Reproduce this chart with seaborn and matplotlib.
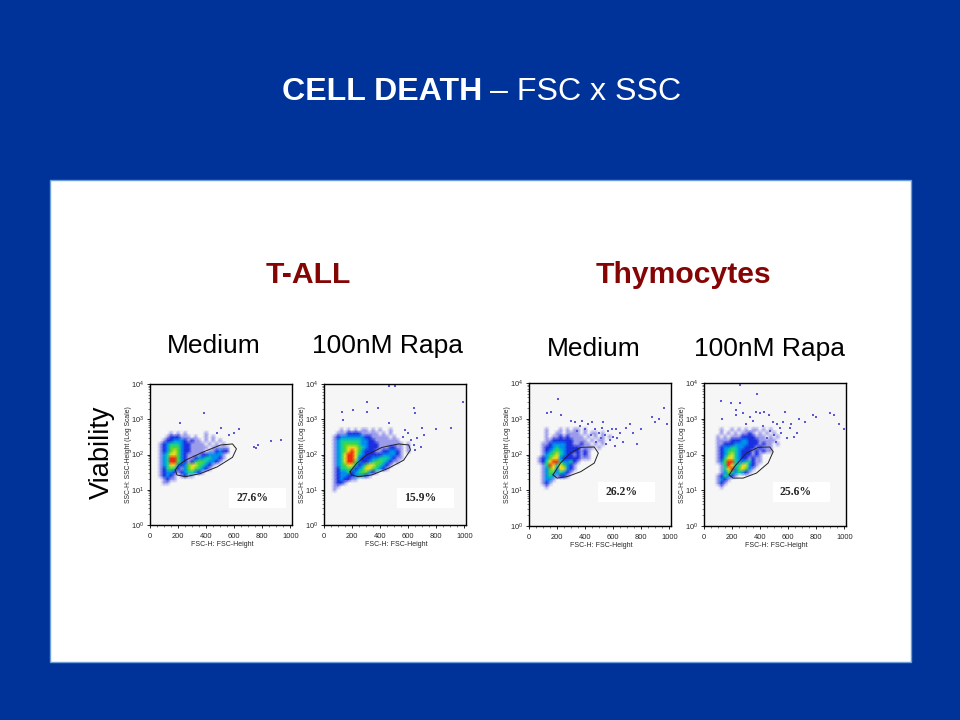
import numpy as np
import pandas as pd
import matplotlib
matplotlib.use("Agg")
import matplotlib.pyplot as plt
from matplotlib.colors import LinearSegmentedColormap
from matplotlib.patches import Rectangle
import seaborn as sns

W, H = 960, 720
BLUE = "#003399"
RED = "#850505"

# density levels by row: first key = log10(SSC) of the row, char i = level at FSC 50 + 25*i
tall_medium_rows = {
 2.6: "....1.1.1.....1", 2.5: "...1222111.1..1.1", 2.4: "..12233321211.1.1.1",
 2.3: ".1234443221111.1.1.1", 2.2: ".12355532211111.11111", 2.1: ".1235653221111.112322.",
 2.0: ".1346653211112233331", 1.9: ".1347753211233443321", 1.8: ".134775321245543321",
 1.7: ".1346632356654321", 1.6: ".124542135654321", 1.5: ".1233212344321",
 1.4: ".12321.1211", 1.3: "..1211", 1.2: "..11"}
tall_rapa_rows = {
 2.7: "...1.1.1.11.1.1..1", 2.6: "..111222211111.1.1", 2.5: ".1233333332211111.1",
 2.4: ".1344444433221111111", 2.3: ".13455554332221111111.1", 2.2: ".13456665432221112211.1",
 2.1: ".13456765322211223321.1", 2.0: ".13467764322222333321", 1.9: ".13467763222334443211",
 1.8: ".1346775322345543211", 1.7: ".13456642356654321", 1.6: ".1244542346654321",
 1.5: ".1233423455321", 1.4: ".12332233321", 1.3: ".1232211", 1.2: ".1221", 1.1: ".11", 1.0: ".1"}
thy_medium_rows = {
 2.7: "...1...1.1.11.1", 2.6: "...1..11.1111.1.11.1", 2.5: "...1.112121111.1.1.1.1",
 2.4: "...112222221111.1.11", 2.3: "..11233332211211.1.1", 2.2: "..122343322221111.1",
 2.1: "..12345432222121", 2.0: "..13456432212121", 1.9: ".123566322222111",
 1.8: ".124677433421", 1.7: "..1476465321", 1.6: "..1356366321", 1.5: "..135434321",
 1.4: "..13431221", 1.3: "..1331", 1.2: "..121", 1.1: "...1"}
thy_rapa_rows = {
 2.7: "...1..1.1.1.11.1.1", 2.6: "...1.1.1.1121.1.1.1", 2.5: "..1.1.1112222111.1.1",
 2.4: "..11112223322211111", 2.3: "..1122233332221211.1", 2.2: "..1233443322212111",
 2.1: "..1234543222121211", 2.0: "..1235643222121", 1.9: "..1246643221211",
 1.8: "..1357743344211", 1.7: "...14764466321", 1.6: "...1467356531", 1.5: "...135434321",
 1.4: "..124321", 1.3: "..1321", 1.2: "..121", 1.1: "...1"}

# isolated events (FSC, log10 SSC)
tall_medium_fsc = [384, 216, 635, 504, 743, 767, 863, 935, 755, 600, 560, 480]
tall_medium_ssc = [3.17, 2.89, 2.72, 2.74, 2.2, 2.27, 2.37, 2.4, 2.18, 2.6, 2.55, 2.62]
tall_rapa_fsc = [460, 508, 305, 125, 137, 209, 305, 388, 640, 652, 460, 700, 796, 904, 988, 712, 652, 664, 600, 620, 560, 690, 580, 640]
tall_rapa_ssc = [3.95, 3.93, 3.5, 3.2, 2.98, 3.26, 3.2, 3.31, 3.31, 3.17, 2.89, 2.74, 2.72, 2.74, 3.5, 2.55, 2.13, 2.46, 2.6, 2.4, 2.5, 2.2, 2.7, 2.28]
thy_medium_fsc = [210, 130, 160, 225, 300, 330, 380, 420, 450, 470, 500, 520, 540, 560, 580, 600, 620, 650, 670, 690, 720, 740, 770, 800, 880, 900, 930, 960, 980, 400, 440, 510, 550, 610, 360, 340, 480, 530, 590, 630]
thy_medium_ssc = [3.55, 3.15, 3.2, 3.1, 2.95, 2.9, 2.95, 2.85, 2.9, 2.7, 2.6, 2.75, 2.55, 2.65, 2.4, 2.5, 2.7, 2.6, 2.35, 2.75, 2.85, 2.6, 2.3, 2.7, 3.05, 2.9, 3.0, 3.3, 2.85, 2.7, 2.55, 2.45, 2.3, 2.25, 2.8, 2.65, 2.35, 2.9, 2.7, 2.45]
thy_rapa_fsc = [260, 120, 190, 260, 130, 230, 380, 230, 280, 330, 370, 400, 430, 460, 490, 520, 550, 580, 610, 640, 680, 720, 780, 800, 900, 930, 960, 1000, 420, 470, 500, 540, 590, 620, 350, 300, 660, 450, 510, 560]
thy_rapa_ssc = [3.95, 3.5, 3.45, 3.45, 3.0, 3.25, 3.7, 3.1, 3.15, 3.05, 3.2, 3.15, 3.2, 3.1, 2.9, 2.85, 2.6, 3.2, 2.75, 2.5, 3.0, 2.9, 3.1, 3.05, 3.15, 3.1, 2.85, 2.7, 2.8, 2.65, 2.55, 2.75, 2.45, 2.85, 2.95, 2.85, 2.6, 2.45, 2.35, 2.9]

# gate outlines (FSC, log10 SSC)
tall_medium_gate_x = [180, 205, 253, 384, 504, 588, 616, 588, 480, 360, 252, 192, 180]
tall_medium_gate_y = [1.56, 1.70, 1.84, 2.08, 2.27, 2.30, 2.16, 1.92, 1.65, 1.46, 1.37, 1.42, 1.56]
tall_rapa_gate_x = [185, 233, 305, 412, 532, 604, 616, 568, 460, 340, 245, 197, 185]
tall_rapa_gate_y = [1.51, 1.75, 1.99, 2.20, 2.30, 2.27, 2.13, 1.84, 1.61, 1.42, 1.37, 1.42, 1.51]
thy_medium_gate_x = [171, 224, 296, 369, 465, 494, 465, 369, 272, 200, 171]
thy_medium_gate_y = [1.43, 1.76, 2.04, 2.20, 2.21, 2.04, 1.76, 1.52, 1.38, 1.34, 1.43]
thy_rapa_gate_x = [179, 219, 302, 386, 469, 493, 457, 374, 279, 207, 179]
thy_rapa_gate_y = [1.43, 1.67, 2.04, 2.20, 2.21, 2.08, 1.76, 1.48, 1.34, 1.34, 1.43]

percent_labels = ["27.6%", "15.9%", "26.2%", "25.6%"]
percent_box_left = [563, 520, 494, 490]
percent_box_top = [1.04, 1.04, 1.24, 1.24]

level_palette = ["#f6f6f6", "#9a9aec", "#1a2fe0", "#0090f0", "#10d0a0",
                 "#50d830", "#f0e020", "#ee2a10"]
density_cmap = LinearSegmentedColormap.from_list("flow", level_palette)
x_ticks = [0, 200, 400, 600, 800, 1000]
decades = [0, 1, 2, 3, 4]


def grid_arrays(rows):
    xs = 50 + 25 * np.arange(30)
    ys = np.round(np.arange(0.8, 3.01, 0.1), 1)
    z = np.zeros((len(ys), len(xs)))
    for y, s in rows.items():
        j = int(round((y - 0.8) * 10))
        for i, c in enumerate(s):
            if c != ".":
                z[j, i] = int(c)
    return xs, 10 ** ys, z


def px_box(l, t, r, b):
    return [l / W, 1 - b / H, (r - l) / W, (b - t) / H]


sns.set_theme(style="white")
plt.rcParams["font.family"] = ["Liberation Sans", "DejaVu Sans"]
plt.rcParams["mathtext.fontset"] = "custom"
plt.rcParams["mathtext.rm"] = "Liberation Sans"

fig = plt.figure(figsize=(W / 100, H / 100), dpi=100, facecolor=BLUE)
fig.add_artist(Rectangle((50 / W, 1 - 662 / H), 861 / W, 482 / H, transform=fig.transFigure,
                         facecolor="white", edgecolor="#6f9fd8", linewidth=1, zorder=-5))


def T(x, y, s, **kw):
    fig.text(x / W, 1 - y / H, s, va="center", color=kw.pop("color", "black"), **kw)


T(282, 92, "CELL DEATH", color="white", fontsize=23.1, fontweight="bold")
T(490, 92, "– FSC x SSC", color="white", fontsize=23.1)
T(308.5, 275, "T-ALL", color=RED, fontsize=21.7, fontweight="bold", ha="center")
T(683, 275, "Thymocytes", color=RED, fontsize=21.7, fontweight="bold", ha="center")
T(214, 346, "Medium", fontsize=19, ha="center")
T(388, 346, "100nM Rapa", fontsize=19, ha="center")
T(594, 349, "Medium", fontsize=19, ha="center")
T(769, 349, "100nM Rapa", fontsize=19, ha="center")
T(102, 452, "Viability", fontsize=19.5, ha="center", rotation=90)

panels = [
    ((150, 384, 292, 525), tall_medium_rows, tall_medium_fsc, tall_medium_ssc, tall_medium_gate_x, tall_medium_gate_y),
    ((324, 384, 466, 525), tall_rapa_rows, tall_rapa_fsc, tall_rapa_ssc, tall_rapa_gate_x, tall_rapa_gate_y),
    ((529, 383, 671, 526), thy_medium_rows, thy_medium_fsc, thy_medium_ssc, thy_medium_gate_x, thy_medium_gate_y),
    ((704, 383, 846, 526), thy_rapa_rows, thy_rapa_fsc, thy_rapa_ssc, thy_rapa_gate_x, thy_rapa_gate_y),
]

for k, (box, rows, sx, sy, gx, gy) in enumerate(panels):
    ax = fig.add_axes(px_box(*box), facecolor="#f6f6f6")
    ax.set_yscale("log")
    gxs, gys, z = grid_arrays(rows)
    ax.pcolormesh(gxs, gys, z, cmap=density_cmap, vmin=0, vmax=7, shading="gouraud", zorder=1)
    sns.scatterplot(x=sx, y=10 ** np.array(sy), ax=ax, s=1.6, marker="s",
                    color="#5a5ad8", linewidth=0, legend=False, zorder=2)
    sns.lineplot(x=gx, y=10 ** np.array(gy), sort=False, estimator=None, color="#222222",
                 linewidth=0.7, ax=ax, zorder=3)
    ax.add_patch(Rectangle((percent_box_left[k], 10 ** (percent_box_top[k] - 0.57)), 405,
                           10 ** percent_box_top[k] - 10 ** (percent_box_top[k] - 0.57),
                           facecolor="white", edgecolor="none", zorder=4))
    ax.text(percent_box_left[k] + 165, 10 ** (percent_box_top[k] - 0.285), percent_labels[k],
            fontsize=8.4, fontweight="bold", family="Liberation Serif", ha="center", va="center", zorder=5)
    ax.set_xlim(0, 1012)
    ax.set_ylim(1, 1e4)
    ax.set_xticks(x_ticks)
    ax.set_xticks(np.arange(0, 1001, 50), minor=True)
    ax.set_yticks([10 ** d for d in decades])
    ax.set_yticklabels([rf"$\mathregular{{10^{{{d}}}}}$" for d in decades])
    ax.tick_params(axis="both", which="major", length=2.4, width=0.7, labelsize=5.4,
                   left=True, bottom=True)
    ax.tick_params(axis="x", which="major", pad=3.6)
    ax.tick_params(axis="y", which="major", pad=2.0)
    ax.tick_params(axis="both", which="minor", length=1.2, width=0.4, left=True, bottom=True)
    ax.set_xlabel("FSC-H: FSC-Height", fontsize=5)
    ax.set_ylabel("SSC-H: SSC-Height (Log Scale)", fontsize=4.9)
    ax.xaxis.set_label_coords(0.51, -0.11)
    ax.yaxis.set_label_coords(-0.125, 0.5)
    for sp in ax.spines.values():
        sp.set_visible(True)
        sp.set_color("black")
        sp.set_linewidth(1.0)

fig.savefig("out.png", dpi=100, facecolor=BLUE)
